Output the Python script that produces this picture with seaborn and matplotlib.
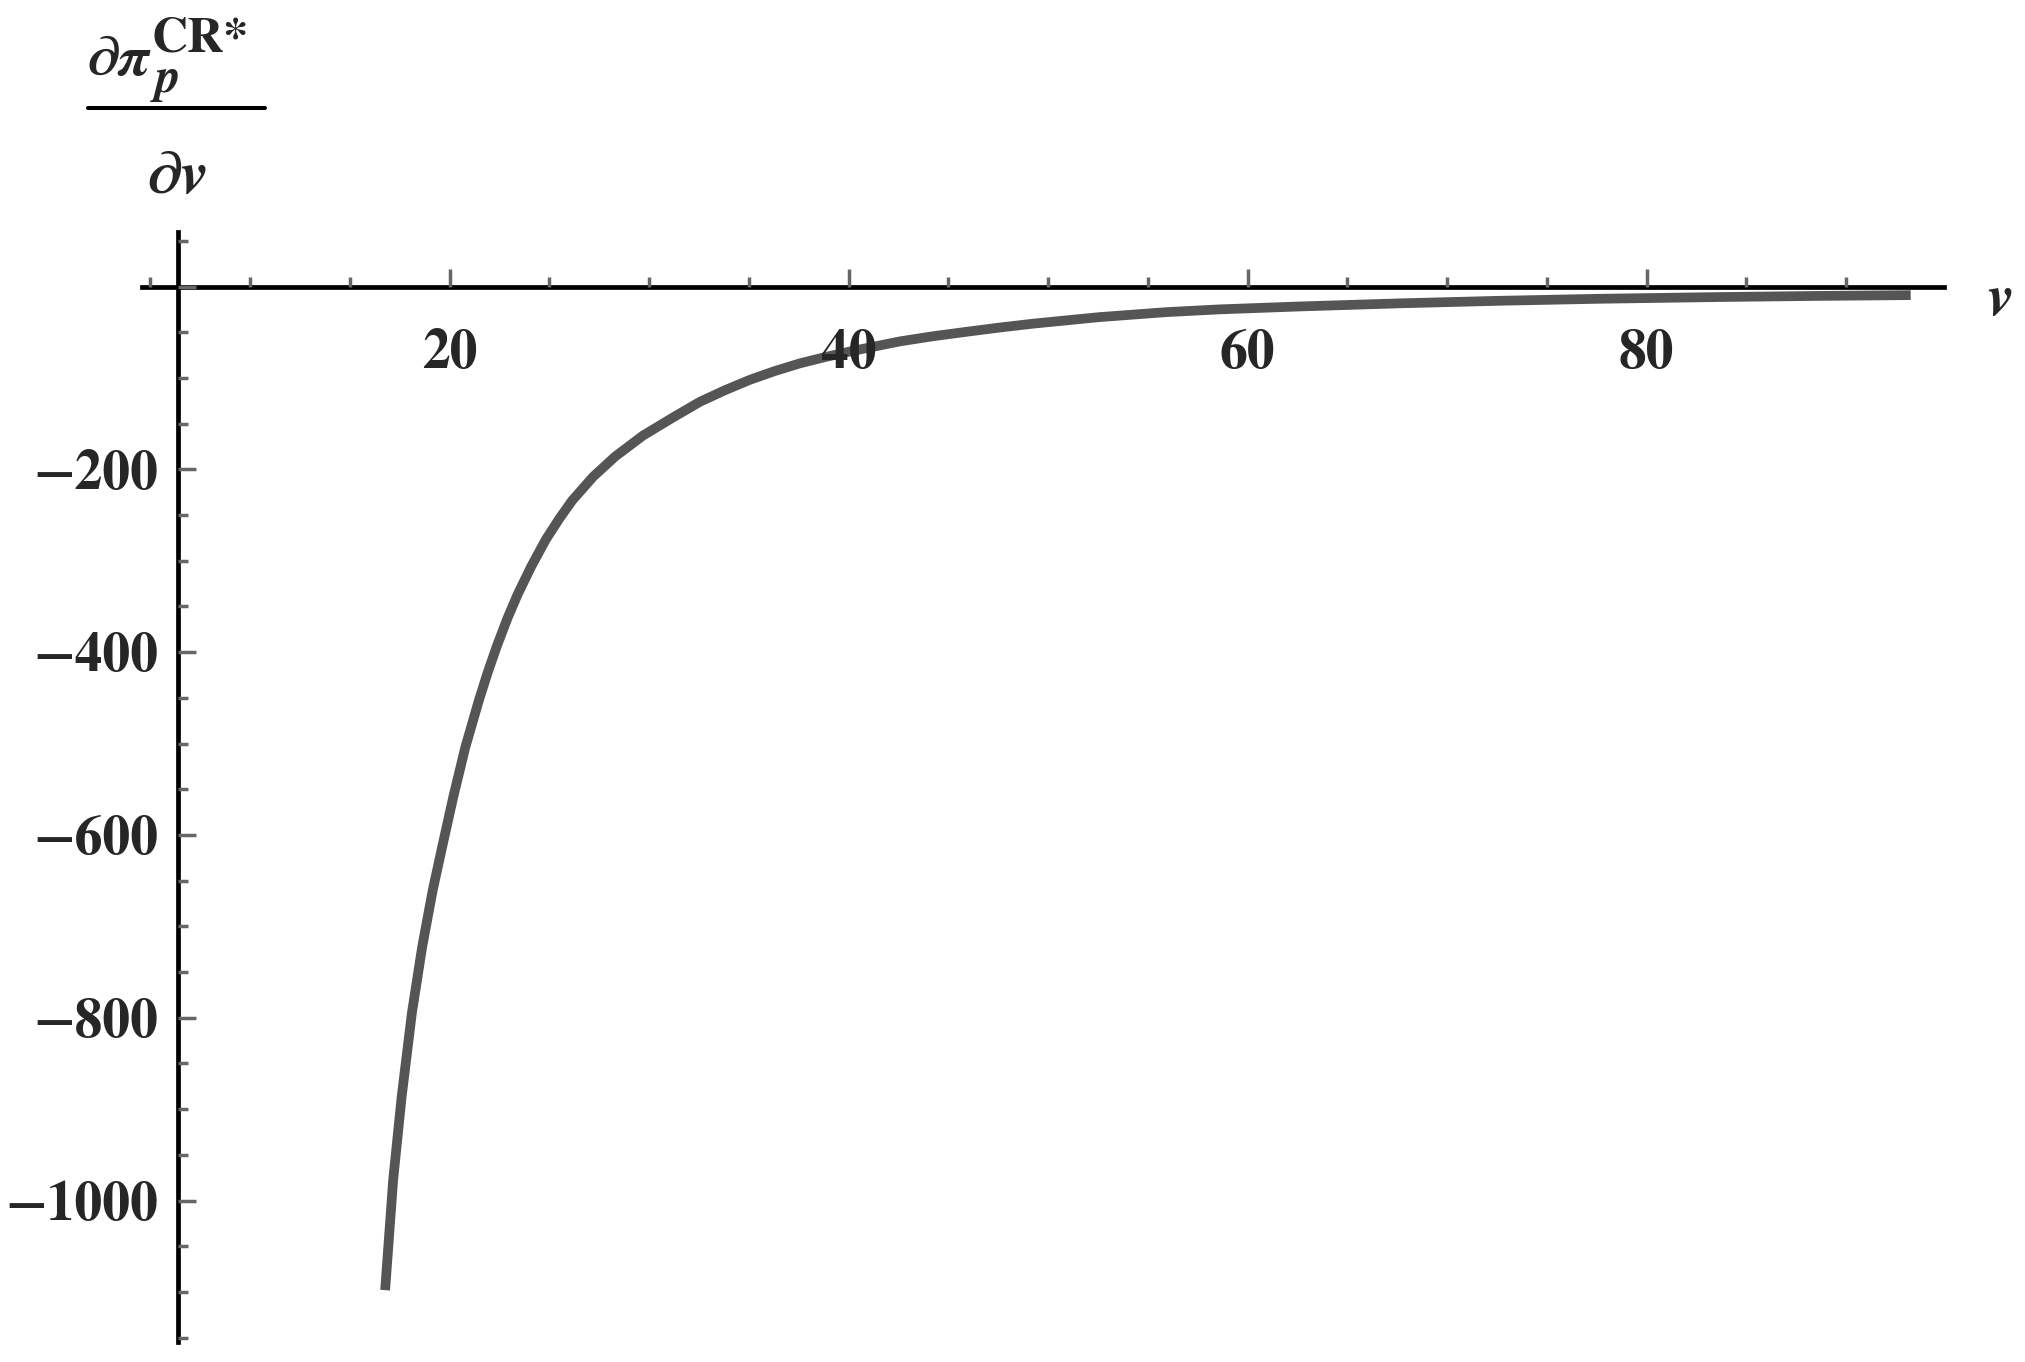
import matplotlib
matplotlib.use("Agg")
import matplotlib.pyplot as plt
from matplotlib.lines import Line2D
from matplotlib.ticker import FixedLocator, MultipleLocator
import pandas as pd
import seaborn as sns

# curve values
v = [16.77, 17.17, 17.60, 18.11, 18.63, 19.16, 19.63, 20.19, 20.79, 21.48,
     21.9, 22.36, 22.9, 23.43, 24.1, 24.82, 25.5, 26.15, 27.2, 28.3,
     29.7, 31.22, 32.56, 33.8, 35.06, 36.3, 37.57, 38.8, 40.08, 42.58,
     44.2, 45.92, 47.6, 49.26, 52.61, 55.95, 58.6, 62.63, 67.64, 72.65,
     77.66, 83.68, 88.5, 93.24]
dpi_dv = [-1098, -978, -886, -795, -722, -660, -613, -558, -504, -452,
          -423, -394, -363, -336, -306, -277, -254, -234, -208, -186,
          -163, -143, -126, -113.5, -102, -92.5, -84, -77.3, -71, -60,
          -54.5, -49.5, -44.8, -40.6, -33.4, -28.0, -25.0, -21.8, -18.4, -15.6,
          -13.4, -11.5, -10.3, -9.4]

x_ticks = [20, 40, 60, 80]
x_labels = ["20", "40", "60", "80"]
y_ticks = [-1000, -800, -600, -400, -200, 0]
y_labels = ["\u22121000", "\u2212800", "\u2212600", "\u2212400", "\u2212200", ""]

sns.set_theme(style="white")
plt.rcParams["font.family"] = ["STIXGeneral", "Liberation Serif", "DejaVu Serif"]
plt.rcParams["mathtext.fontset"] = "stix"

W, H = 2025, 1362
fig = plt.figure(figsize=(W / 100, H / 100), dpi=100)
ax = fig.add_axes([0.0700, 0.0145, 0.8899, 0.8154])

df = pd.DataFrame({"v": v, "d": dpi_dv})
sns.lineplot(data=df, x="v", y="d", color="#555555", linewidth=7, ax=ax)
ax.lines[0].set_solid_capstyle("butt")
ax.lines[0].set_solid_joinstyle("round")

ax.set_xlim(4.57, 94.9)
ax.set_ylim(-1155, 60)
ax.set_xlabel("")
ax.set_ylabel("")

# axes through the origin, Mathematica style
for s in ["top", "right"]:
    ax.spines[s].set_visible(False)
ax.spines["left"].set_position(("data", 6.38))
ax.spines["bottom"].set_position(("data", 0))
for s in ["left", "bottom"]:
    ax.spines[s].set_color("black")
    ax.spines[s].set_linewidth(3.4)

ax.xaxis.set_major_locator(FixedLocator(x_ticks))
ax.xaxis.set_minor_locator(MultipleLocator(5))
ax.yaxis.set_major_locator(FixedLocator(y_ticks))
ax.yaxis.set_minor_locator(MultipleLocator(50))
ax.set_xticklabels(x_labels, fontsize=40, fontweight="bold")
ax.set_yticklabels(y_labels, fontsize=40, fontweight="bold")

ax.tick_params(which="both", direction="in", color="#666666", width=2.5,
               bottom=True, left=True)
ax.tick_params(which="major", length=13)
ax.tick_params(which="minor", length=7.5)
ax.tick_params(axis="x", which="major", pad=31)
ax.tick_params(axis="y", which="major", pad=14)
ax.set_axisbelow(False)
ax.grid(False)

# y axis label as a stacked fraction
def px(x, y):
    return x / W, 1 - y / H

fig.text(*px(86, 75), r"$\mathbfit{\partial\pi}$", fontsize=41,
         ha="left", va="baseline")
fig.text(*px(150, 92), r"$\mathbfit{p}$", fontsize=35,
         ha="left", va="baseline")
fig.text(*px(151, 52), "CR*", fontsize=36, fontweight="bold",
         ha="left", va="baseline")
fig.add_artist(Line2D([88 / W, 265 / W], [1 - 107.5 / H] * 2,
                      transform=fig.transFigure, color="black", linewidth=2.9))
fig.text(*px(176, 193), r"$\mathbfit{\partial v}$", fontsize=44,
         ha="center", va="baseline")

# x axis label
fig.text(*px(2000, 315), r"$\mathbfit{v}$", fontsize=42,
         ha="center", va="baseline")

fig.savefig("out.png", dpi=100)
